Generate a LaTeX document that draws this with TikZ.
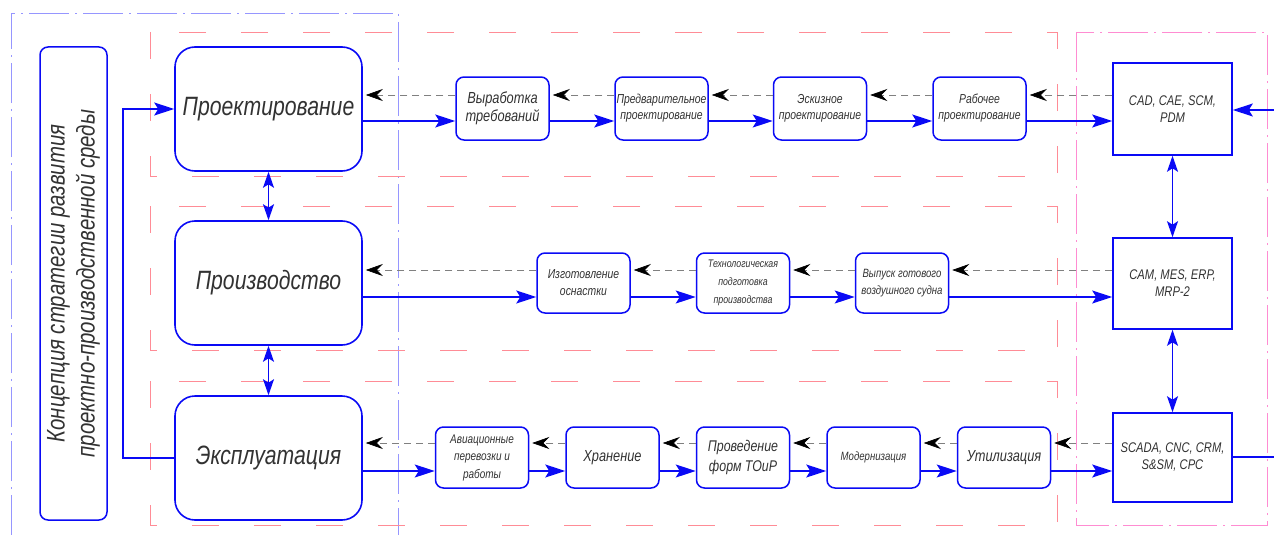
\documentclass[tikz,border=0pt]{standalone}
\usepackage{fontspec}
\setmainfont{Liberation Sans}[FakeStretch=0.8]
\usetikzlibrary{arrows.meta}
\definecolor{txt}{RGB}{50,50,50}
\definecolor{frameblue}{RGB}{150,150,255}
\definecolor{regred}{RGB}{255,140,150}
\definecolor{regpink}{RGB}{255,140,210}
\definecolor{lineblue}{RGB}{10,10,245}
\tikzset{
  x=1pt, y=-1pt,
  bigbox/.style={draw=lineblue, line width=1.6pt, rounded corners=20pt, minimum width=187pt, minimum height=124pt, align=center, text=txt, font=\itshape\fontsize{26.5}{30}\selectfont},
  smallbox/.style={draw=lineblue, line width=1.5pt, rounded corners=8pt, minimum width=93pt, minimum height=62pt, inner sep=1pt, align=center, text=txt},
  sysbox/.style={draw=lineblue, line width=1.6pt, minimum width=119pt, align=center, text=txt, font=\itshape\fontsize{14}{17}\selectfont},
  bluetip/.tip={Stealth[length=20pt,width=13pt,inset=4pt]},
  flow/.style={draw=lineblue, line width=1.3pt, -bluetip},
  flowline/.style={draw=lineblue, line width=1.3pt},
  both/.style={draw=lineblue, line width=1.3pt, {Stealth[length=16pt,width=11pt,inset=3.5pt]}-{Stealth[length=16pt,width=11pt,inset=3.5pt]}},
  back/.style={draw=gray, line width=0.6pt, dash pattern=on 7pt off 5pt, -{Stealth[length=17pt,width=12pt,inset=6pt,color=black]}, shorten >=3pt},
  redreg/.style={draw=regred, line width=0.8pt, dash pattern=on 27pt off 35pt},
  pinkreg/.style={draw=regpink, line width=0.8pt, dash pattern=on 40pt off 6pt on 2pt off 6pt},
  bluereg/.style={draw=frameblue, line width=0.9pt, dash pattern=on 40pt off 6pt on 2pt off 6pt},
}
\begin{document}
\begin{tikzpicture}
\useasboundingbox (0,0) rectangle (1274,535);
% regions
\draw[bluereg] (11,535) -- (11,13) -- (398,13) -- (398,535);
\draw[redreg] (150,32) rectangle (1057,176);
\draw[redreg] (150,206) rectangle (1057,350);
\draw[redreg] (150,381) rectangle (1057,525);
\draw[pinkreg] (1076,32) rectangle (1267,525);

% concept
\node[draw=lineblue, line width=1.5pt, rounded corners=8pt, rotate=90, minimum width=473pt, minimum height=67pt, align=center, text=txt, font=\itshape\fontsize{25.5}{30}\selectfont] (conc) at (73.5,283.5) {Концепция стратегии развития\\проектно-производственной среды};

% big boxes
\node[bigbox] (proj) at (268.5,109) {Проектирование};
\node[bigbox] (prod) at (268.5,283) {Производство};
\node[bigbox] (expl) at (268.5,458) {Эксплуатация};

% system boxes
\node[sysbox, minimum height=92pt] (sys1) at (1172.5,109) {CAD, CAE, SCM,\\PDM};
\node[sysbox, minimum height=91pt] (sys2) at (1172.5,283.5) {CAM, MES, ERP,\\MRP-2};
\node[sysbox, minimum height=89pt] (sys3) at (1172.5,457.5) {SCADA, CNC, CRM,\\S\&SM, CPC};

% row 1
\node[smallbox, minimum height=63pt, font=\itshape\fontsize{16}{18}\selectfont] (b11) at (502.5,108.5) {Выработка\\требований};
\node[smallbox, minimum height=63pt, font=\itshape\fontsize{13}{16}\selectfont] (b12) at (661.5,108.5) {Предварительное\\проектирование};
\node[smallbox, minimum height=63pt, font=\itshape\fontsize{13}{16}\selectfont] (b13) at (820,108.5) {Эскизное\\проектирование};
\node[smallbox, minimum height=63pt, font=\itshape\fontsize{13}{16}\selectfont] (b14) at (979.5,108.5) {Рабочее\\проектирование};

% row 2
\node[smallbox, minimum height=60pt, font=\itshape\fontsize{13}{17}\selectfont] (b21) at (583.5,283) {Изготовление\\оснастки};
\node[smallbox, minimum height=60pt, font=\itshape\fontsize{11}{18}\selectfont] (b22) at (743,283) {Технологическая\\подготовка\\производства};
\node[smallbox, minimum height=60pt, font=\itshape\fontsize{12}{17}\selectfont] (b23) at (902,283) {Выпуск готового\\воздушного судна};

% row 3
\node[smallbox, minimum height=61pt, font=\itshape\fontsize{12.5}{17.5}\selectfont] (b31) at (482,457.5) {Авиационные\\перевозки и\\работы};
\node[smallbox, minimum height=61pt, font=\itshape\fontsize{16}{19}\selectfont] (b32) at (612.5,457.5) {Хранение};
\node[smallbox, minimum height=61pt, font=\itshape\fontsize{15.5}{20}\selectfont] (b33) at (743,457.5) {Проведение\\форм ТОиР};
\node[smallbox, minimum height=61pt, font=\itshape\fontsize{12}{15}\selectfont] (b34) at (873.5,457.5) {Модернизация};
\node[smallbox, minimum height=61pt, font=\itshape\fontsize{16}{19}\selectfont] (b35) at (1004,457.5) {Утилизация};

% level coordinates
\coordinate (r1d) at (0,95);
\coordinate (r1s) at (0,121);
\coordinate (r2d) at (0,270);
\coordinate (r2s) at (0,297);
\coordinate (r3d) at (0,443);
\coordinate (r3s) at (0,471);

% row 1 connectors
\foreach \a/\b in {proj/b11, b11/b12, b12/b13, b13/b14, b14/sys1}
  \draw[flow] (\a.east |- r1s) -- (\b.west |- r1s);
\foreach \a/\b in {sys1/b14, b14/b13, b13/b12, b12/b11, b11/proj}
  \draw[back] (\a.west |- r1d) -- (\b.east |- r1d);

% row 2 connectors
\foreach \a/\b in {prod/b21, b21/b22, b22/b23, b23/sys2}
  \draw[flow] (\a.east |- r2s) -- (\b.west |- r2s);
\foreach \a/\b in {sys2/b23, b23/b22, b22/b21, b21/prod}
  \draw[back] (\a.west |- r2d) -- (\b.east |- r2d);

% row 3 connectors
\foreach \a/\b in {expl/b31, b31/b32, b32/b33, b33/b34, b34/b35, b35/sys3}
  \draw[flow] (\a.east |- r3s) -- (\b.west |- r3s);
\foreach \a/\b in {sys3/b35, b35/b34, b34/b33, b33/b32, b32/b31, b31/expl}
  \draw[back] (\a.west |- r3d) -- (\b.east |- r3d);

% vertical links
\draw[both] (proj.south) -- (prod.north);
\draw[both] (prod.south) -- (expl.north);
\draw[both] (sys1.south) -- (sys2.north);
\draw[both] (sys2.south) -- (sys3.north);

% loop from exploitation back to design
\coordinate (lp) at (123,0);
\draw[flow] (expl.west) -- (expl.west -| lp) -- (proj.west -| lp) -- (proj.west);

% right edge
\coordinate (ea) at (1274,110);
\coordinate (eb) at (1274,457);
\draw[flow] (ea) -- (sys1.east |- ea);
\draw[flowline] (sys3.east |- eb) -- (eb);
\end{tikzpicture}
\end{document}
